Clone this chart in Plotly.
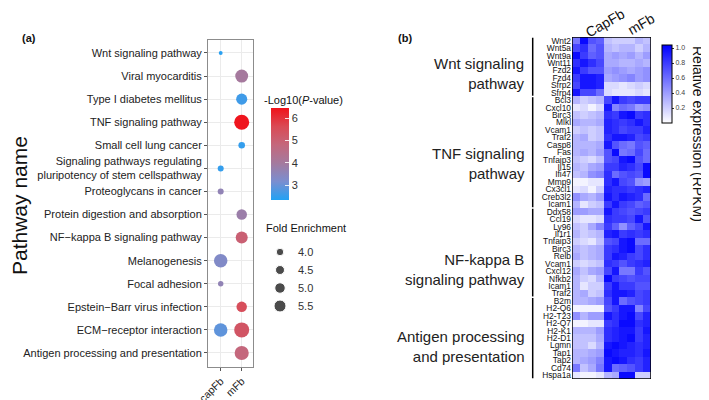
import plotly.graph_objects as go

# ---------------- Panel (a) data ----------------
pathways = [
    "Wnt signaling pathway",
    "Viral myocarditis",
    "Type I diabetes mellitus",
    "TNF signaling pathway",
    "Small cell lung cancer",
    "Signaling pathways regulating pluripotency of stem cellspathway",
    "Proteoglycans in cancer",
    "Protein digestion and absorption",
    "NF\u2212kappa B signaling pathway",
    "Melanogenesis",
    "Focal adhesion",
    "Epstein\u2212Barr virus infection",
    "ECM\u2212receptor interaction",
    "Antigen processing and presentation",
]
cell_groups = ["capFb", "mFb"]

dot_pathway = [
    "Wnt signaling pathway", "Viral myocarditis", "Type I diabetes mellitus",
    "TNF signaling pathway", "Small cell lung cancer",
    "Signaling pathways regulating pluripotency of stem cellspathway",
    "Proteoglycans in cancer", "Protein digestion and absorption",
    "NF\u2212kappa B signaling pathway", "Melanogenesis", "Focal adhesion",
    "Epstein\u2212Barr virus infection", "ECM\u2212receptor interaction",
    "ECM\u2212receptor interaction", "Antigen processing and presentation",
]
dot_group = ["capFb", "mFb", "mFb", "mFb", "mFb", "capFb", "capFb", "mFb",
             "mFb", "capFb", "capFb", "mFb", "capFb", "mFb", "mFb"]
dot_fold_enrichment = [2.8, 5.8, 5.2, 6.5, 3.7, 3.5, 3.5, 5.0, 5.5, 6.0, 3.3,
                       5.0, 6.0, 6.5, 6.2]
dot_neglog10p = [2.4, 4.0, 2.6, 6.4, 2.5, 2.5, 3.6, 3.8, 5.0, 3.3, 3.6, 5.5,
                 2.9, 5.3, 4.8]

fe_legend_breaks = [4.0, 4.5, 5.0, 5.5]
p_ticks = [3, 4, 5, 6]

# ---------------- Panel (b) data ----------------
genes = ["Wnt2", "Wnt5a", "Wnt9a", "Wnt11", "Fzd2", "Fzd4", "Sfrp2", "Sfrp4",
         "Bcl3", "Cxcl10", "Birc3", "Mlkl", "Vcam1", "Traf2", "Casp8", "Fas",
         "Tnfaip3", "Il15", "Ifi47", "Mmp9", "Cx3cl1", "Creb3l2", "Icam1",
         "Ddx58", "Ccl19", "Ly96", "Il1r1", "Tnfaip3", "Birc3", "Relb",
         "Vcam1", "Cxcl12", "Nfkb2", "Icam1", "Traf2",
         "B2m", "H2-Q6", "H2-T23", "H2-Q7", "H2-K1", "H2-D1", "Lgmn", "Tap1",
         "Tap2", "Cd74", "Hspa1a"]
gene_groups = ["Wnt signaling<br>pathway", "TNF signaling<br>pathway",
               "NF-kappa B<br>signaling pathway",
               "Antigen processing<br>and presentation"]
gene_group_sizes = [8, 15, 12, 11]
sample_groups = ["CapFb", "mFb"]

expr_capfb = [
    [0.55, 1.0, 0.7, 0.65], [0.75, 0.85, 0.6, 0.7], [1.0, 0.8, 0.65, 0.7],
    [0.85, 0.95, 0.85, 0.75], [0.95, 0.8, 0.7, 0.7], [0.8, 0.95, 0.95, 0.9],
    [0.75, 0.95, 0.95, 0.9], [0.95, 0.75, 0.75, 0.6],
    [0.3, 0.2, 0.25, 0.3], [0.1, 0.15, 0.05, 0.15], [0.25, 0.2, 0.25, 0.3],
    [0.35, 0.3, 0.3, 0.35], [0.2, 0.25, 0.2, 0.25], [0.3, 0.35, 0.2, 0.25],
    [0.3, 0.3, 0.3, 0.35], [0.3, 0.35, 0.3, 0.4], [0.25, 0.2, 0.15, 0.25],
    [0.3, 0.25, 0.35, 0.4], [0.25, 0.3, 0.45, 0.5], [0.05, 0.05, 0.1, 0.1],
    [0.1, 0.15, 0.05, 0.2], [0.45, 0.35, 0.3, 0.4], [0.3, 0.1, 0.2, 0.25],
    [0.4, 0.4, 0.35, 0.35], [0.15, 0.1, 0.1, 0.15], [0.25, 0.2, 0.35, 0.5],
    [0.3, 0.2, 0.25, 0.3], [0.2, 0.15, 0.1, 0.25], [0.3, 0.25, 0.3, 0.35],
    [0.35, 0.25, 0.3, 0.35], [0.2, 0.15, 0.2, 0.25], [0.35, 0.25, 0.35, 0.4],
    [0.3, 0.2, 0.15, 0.3], [0.3, 0.1, 0.2, 0.2], [0.3, 0.35, 0.2, 0.25],
    [0.3, 0.3, 0.35, 0.4], [0.05, 0.05, 0.05, 0.05], [0.45, 0.3, 0.4, 0.4],
    [0.05, 0.05, 0.1, 0.1], [0.3, 0.3, 0.3, 0.4], [0.25, 0.25, 0.25, 0.35],
    [0.25, 0.25, 0.15, 0.3], [0.3, 0.3, 0.35, 0.4], [0.3, 0.35, 0.4, 0.5],
    [0.55, 0.25, 0.35, 0.55], [0.1, 0.05, 0.05, 0.1],
]
expr_mfb = [
    [0.25, 0.2, 0.2, 0.2, 0.3, 0.25], [0.3, 0.25, 0.3, 0.3, 0.2, 0.3],
    [0.35, 0.4, 0.35, 0.4, 0.3, 0.4], [0.35, 0.35, 0.3, 0.3, 0.35, 0.3],
    [0.4, 0.45, 0.4, 0.35, 0.4, 0.45], [0.35, 0.4, 0.45, 0.5, 0.4, 0.45],
    [0.15, 0.15, 0.1, 0.15, 0.2, 0.15], [0.15, 0.1, 0.1, 0.1, 0.15, 0.1],
    [0.75, 0.95, 0.8, 0.75, 0.8, 0.8], [0.95, 0.5, 0.6, 0.55, 0.4, 0.45],
    [0.85, 0.8, 0.95, 1.0, 0.8, 0.85], [0.9, 0.85, 0.8, 0.85, 0.95, 0.85],
    [0.9, 0.85, 0.75, 0.8, 0.8, 0.9], [0.85, 0.95, 0.95, 0.9, 0.75, 0.8],
    [0.95, 0.7, 0.6, 0.55, 0.7, 0.65], [0.7, 1.0, 0.55, 0.6, 0.75, 0.6],
    [0.7, 0.75, 0.95, 1.0, 0.7, 0.6], [0.8, 0.8, 0.9, 0.85, 0.75, 1.0],
    [0.85, 0.6, 0.7, 0.75, 0.7, 1.0], [0.85, 0.95, 0.75, 0.7, 0.45, 0.4],
    [0.9, 0.85, 0.85, 0.8, 0.85, 0.9], [0.95, 0.85, 0.95, 0.9, 0.85, 0.6],
    [0.8, 0.95, 0.8, 0.75, 0.65, 0.7], [0.95, 0.8, 0.75, 0.7, 0.75, 0.8],
    [0.85, 0.8, 0.8, 0.75, 0.95, 0.7], [0.8, 0.65, 0.45, 0.65, 0.75, 0.95],
    [0.9, 0.95, 0.8, 0.85, 0.8, 0.85], [0.7, 0.75, 0.95, 1.0, 0.6, 0.6],
    [0.8, 0.85, 0.95, 1.0, 0.75, 0.85], [0.8, 0.95, 0.9, 0.8, 0.75, 0.85],
    [0.85, 0.8, 0.7, 0.8, 0.85, 0.9], [0.75, 0.95, 0.55, 0.55, 0.8, 0.7],
    [1.0, 0.8, 0.75, 0.7, 0.75, 0.75], [0.8, 0.95, 0.8, 0.8, 0.7, 0.7],
    [0.85, 0.95, 0.95, 0.9, 0.75, 0.8], [0.75, 0.95, 0.6, 0.7, 0.75, 0.8],
    [0.7, 0.8, 0.95, 0.95, 0.5, 0.75], [0.95, 0.85, 0.95, 1.0, 0.75, 0.9],
    [0.8, 0.85, 1.0, 1.0, 0.85, 0.9], [0.85, 0.9, 0.95, 0.95, 0.8, 0.95],
    [0.85, 0.9, 0.95, 1.0, 0.8, 0.9], [0.95, 1.0, 0.95, 0.9, 0.85, 0.9],
    [1.0, 0.95, 0.9, 0.9, 0.85, 0.95], [0.95, 1.0, 0.95, 0.85, 0.8, 0.9],
    [0.95, 0.6, 0.65, 0.7, 0.8, 0.9], [0.3, 0.35, 1.0, 1.0, 0.2, 0.2],
]

# ---------------- Figure ----------------
# the page body has an 8px margin, so the figure is 8px smaller and every
# pixel position below is given in window pixels and shifted by that offset
OX, OY = 8, 8
W, H = 709 - OX, 400 - OY
FONT = "Liberation Sans"


def px_x(p):
    return (p - OX) / W


def px_y(p):
    return 1 - (p - OY) / H


def fe_size(fe):
    return 7.5 + 3.0 * (fe - 4.0)


p_colorscale = [[0.0, "#22A2F4"], [0.2, "#7A8ED0"], [0.4, "#A47A9E"],
                [0.6, "#C4677C"], [0.8, "#DA4A55"], [1.0, "#F0121A"]]

fig = go.Figure()

# dot plot
fig.add_trace(go.Scatter(
    x=[cell_groups.index(g) for g in dot_group],
    y=[pathways.index(p) for p in dot_pathway],
    mode="markers",
    marker=dict(
        size=[fe_size(v) for v in dot_fold_enrichment],
        color=dot_neglog10p, colorscale=p_colorscale, cmin=2.33, cmax=6.45,
        line=dict(width=0), opacity=1,
        colorbar=dict(
            x=px_x(270.5), xanchor="left", y=px_y(154), yanchor="middle",
            lenmode="pixels", len=92, thicknessmode="pixels", thickness=18,
            xpad=0, ypad=0, outlinewidth=0,
            tickvals=p_ticks, ticktext=[str(t) for t in p_ticks],
            ticks="inside", ticklen=4, tickcolor="rgba(255,255,255,0.85)",
            tickfont=dict(family=FONT, size=11, color="#333"),
        ),
    ),
    xaxis="x", yaxis="y", showlegend=False, hoverinfo="skip",
))

# size legend
fig.add_trace(go.Scatter(
    x=[0] * len(fe_legend_breaks), y=fe_legend_breaks, mode="markers",
    marker=dict(size=[fe_size(v) for v in fe_legend_breaks], color="black"),
    xaxis="x3", yaxis="y3", showlegend=False, hoverinfo="skip",
))

# heatmap
z = [c + m for c, m in zip(expr_capfb, expr_mfb)]
fig.add_trace(go.Heatmap(
    z=z, x=list(range(10)), y=list(range(len(genes))),
    colorscale=[[0, "#FFFFFF"], [1, "#0000FF"]], zmin=0, zmax=1.04,
    xaxis="x2", yaxis="y2", hoverinfo="skip",
    colorbar=dict(
        x=px_x(661.5), xanchor="left", y=px_y(84), yanchor="middle",
        lenmode="pixels", len=78, thicknessmode="pixels", thickness=10,
        xpad=0, ypad=0, outlinewidth=1, outlinecolor="black",
        tickvals=[0.2, 0.4, 0.6, 0.8, 1.0],
        ticktext=["0.2", "0.4", "0.6", "0.8", "1.0"],
        ticks="outside", ticklen=2, tickcolor="#333",
        tickfont=dict(family=FONT, size=7, color="#444"),
    ),
))

n_rows = len(genes)
shapes = [dict(type="rect", xref="x2", yref="y2", x0=-0.5, x1=9.5,
               y0=-0.5, y1=n_rows - 0.5, line=dict(color="black", width=1.5))]
start = 0
for size in gene_group_sizes:
    shapes.append(dict(type="line", xref="paper", yref="y2",
                       x0=px_x(532.7), x1=px_x(532.7),
                       y0=start - 0.4, y1=start + size - 0.6,
                       line=dict(color="black", width=1.5)))
    start += size

label_y_px = [73, 163, 269, 346]
annotations = []
for name, yp in zip(gene_groups, label_y_px):
    annotations.append(dict(
        text=name, xref="paper", yref="paper", x=px_x(527), y=px_y(yp),
        xanchor="right", yanchor="middle", align="right", showarrow=False,
        font=dict(family=FONT, size=15, color="#222")))

for name, (cx, cy) in zip(sample_groups, [(605, 23), (641, 24)]):
    annotations.append(dict(
        text=name, xref="paper", yref="paper", x=px_x(cx), y=px_y(cy),
        xanchor="center", yanchor="middle", textangle=-30, showarrow=False,
        font=dict(family=FONT, size=14, color="#111")))

annotations += [
    dict(text="Relative expression (RPKM)", xref="paper", yref="paper",
         x=px_x(707), y=px_y(134), textangle=90, showarrow=False,
         xanchor="right", yanchor="middle", borderpad=0,
         font=dict(family=FONT, size=14, color="#111")),
    dict(text="<b>(a)</b>", xref="paper", yref="paper", x=px_x(20),
         y=px_y(38), xanchor="left", yanchor="middle", showarrow=False,
         font=dict(family=FONT, size=11, color="#111")),
    dict(text="<b>(b)</b>", xref="paper", yref="paper", x=px_x(396),
         y=px_y(38), xanchor="left", yanchor="middle", showarrow=False,
         font=dict(family=FONT, size=11, color="#111")),
    dict(text="Pathway name", xref="paper", yref="paper", x=px_x(20),
         y=px_y(206), textangle=-90, showarrow=False, xanchor="center",
         yanchor="middle", font=dict(family=FONT, size=21, color="#111")),
    dict(text="-Log10(<i>P</i>-value)", xref="paper", yref="paper",
         x=px_x(262), y=px_y(100), xanchor="left", yanchor="middle",
         showarrow=False, font=dict(family=FONT, size=11, color="#111")),
    dict(text="Fold Enrichment", xref="paper", yref="paper",
         x=px_x(264), y=px_y(228), xanchor="left", yanchor="middle",
         showarrow=False, font=dict(family=FONT, size=11, color="#111")),
]
for v in fe_legend_breaks:
    annotations.append(dict(
        text=f"{v:.1f}", xref="x3", yref="y3", x=0.8, y=v, xanchor="left",
        yanchor="middle", showarrow=False,
        font=dict(family=FONT, size=11, color="#333")))

tick_labels = [p.replace(" pluripotency", "<br>pluripotency") for p in pathways]

fig.update_layout(
    width=W, height=H, margin=dict(l=0, r=0, t=0, b=0, autoexpand=False),
    paper_bgcolor="white", plot_bgcolor="white",
    font=dict(family=FONT),
    xaxis=dict(domain=[px_x(208), px_x(253)], range=[-0.605, 1.538],
               tickvals=[0, 1], ticktext=cell_groups, tickangle=-45,
               tickfont=dict(family=FONT, size=10.5, color="#222"),
               showgrid=True, gridcolor="#EBEBEB", gridwidth=1,
               zeroline=False, showline=True, mirror=True,
               linecolor="#8C8C8C", linewidth=1, automargin=False,
               ticks="outside", ticklen=3, tickcolor="#555", anchor="y"),
    yaxis=dict(domain=[px_y(367), px_y(40)], range=[13.607, -0.563],
               tickvals=list(range(len(pathways))), ticktext=tick_labels,
               tickfont=dict(family=FONT, size=11, color="#222"),
               showgrid=True, gridcolor="#EBEBEB", gridwidth=1,
               zeroline=False, showline=True, mirror=True,
               linecolor="#8C8C8C", linewidth=1, automargin=False,
               ticks="outside", ticklen=3, tickcolor="#555", anchor="x"),
    xaxis2=dict(domain=[px_x(572), px_x(651)], range=[-0.5, 9.5],
                showticklabels=False, showgrid=False, zeroline=False,
                showline=False, ticks="", automargin=False, anchor="y2"),
    yaxis2=dict(domain=[px_y(379), px_y(37)], range=[n_rows - 0.5, -0.5],
                tickvals=list(range(n_rows)), ticktext=genes,
                tickfont=dict(family=FONT, size=8.4, color="#111"),
                showgrid=False, zeroline=False, showline=False, ticks="",
                automargin=False, anchor="x2"),
    xaxis3=dict(domain=[px_x(270), px_x(330)], range=[-0.5, 2.5],
                visible=False, automargin=False, anchor="y3"),
    yaxis3=dict(domain=[px_y(315), px_y(243)], range=[5.75, 3.75],
                visible=False, anchor="x3", automargin=False),
    shapes=shapes, annotations=annotations,
)

fig.write_html("out.html")
